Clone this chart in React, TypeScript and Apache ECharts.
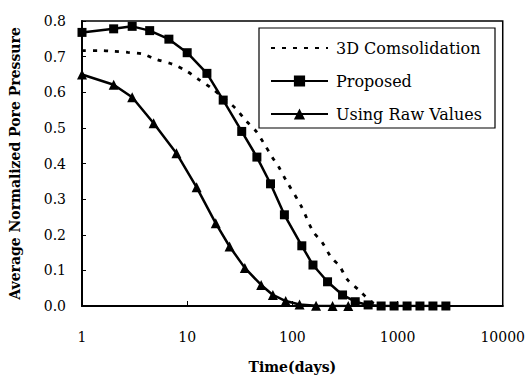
import React, { useEffect, useRef } from "react";
import * as echarts from "echarts";

const xTicks = [1, 10, 100, 1000, 10000];
const yTicks = [0, 0.1, 0.2, 0.3, 0.4, 0.5, 0.6, 0.7, 0.8];

const consolT = [1, 1.42, 2, 2.73, 3.8, 5, 7.2, 9.8, 12.7, 17.3, 22.5, 28.8, 36.3, 45.3, 53.5, 64.3, 74.3, 87, 121, 158, 190, 232, 281, 332, 436, 560, 700];
const consolV = [0.717, 0.717, 0.715, 0.712, 0.707, 0.693, 0.679, 0.66, 0.637, 0.61, 0.582, 0.555, 0.52, 0.49, 0.457, 0.418, 0.39, 0.353, 0.281, 0.208, 0.181, 0.138, 0.112, 0.075, 0.043, 0.012, 0];

const proposedT = [1, 2, 3, 4.4, 6.7, 10, 15.4, 22, 33, 46, 62, 84, 123, 157, 216, 300, 396, 525, 698, 927, 1232, 1633, 2170, 2880];
const proposedV = [0.768, 0.778, 0.785, 0.773, 0.749, 0.711, 0.653, 0.578, 0.49, 0.418, 0.343, 0.256, 0.169, 0.115, 0.068, 0.031, 0.012, 0.003, 0, 0, 0, 0, 0, 0];

const rawT = [1, 2, 3, 4.8, 7.9, 12.3, 18.7, 25.3, 35.3, 50.5, 65.3, 86.4, 117, 168, 241, 340];
const rawV = [0.65, 0.621, 0.586, 0.513, 0.429, 0.333, 0.232, 0.167, 0.107, 0.059, 0.031, 0.014, 0.004, 0.001, 0, 0];

const seriesNames = ["3D Comsolidation", "Proposed", "Using Raw Values"];

const FONT = "DejaVu Serif";

export default function App() {
  const ref = useRef<HTMLDivElement>(null);
  useEffect(() => {
    if (!ref.current) return;
    const chart = echarts.init(ref.current, null, { renderer: "svg" });
    const zip = (t: number[], v: number[]) => t.map((x, i) => [x, v[i]]);
    chart.setOption({
      animation: false,
      backgroundColor: "#ffffff",
      grid: {
        left: 82,
        right: 23,
        top: 21,
        bottom: 78,
        show: true,
        borderColor: "#000",
        borderWidth: 1.5,
      },
      xAxis: {
        type: "log",
        logBase: 10,
        min: xTicks[0],
        max: xTicks[xTicks.length - 1],
        name: "Time(days)",
        nameLocation: "middle",
        nameGap: 54,
        nameTextStyle: { fontFamily: FONT, fontSize: 14, fontWeight: "bold", color: "#000" },
        axisLine: { lineStyle: { color: "#000", width: 2 } },
        axisTick: { inside: true, length: 5, lineStyle: { color: "#000" } },
        axisLabel: {
          fontFamily: FONT,
          fontSize: 14,
          color: "#000",
          margin: 24,
          formatter: (v: number) => String(Math.round(v)),
        },
        splitLine: { show: false },
        minorTick: { show: false },
      },
      yAxis: {
        type: "value",
        min: yTicks[0],
        max: yTicks[yTicks.length - 1],
        interval: 0.1,
        name: "Average Normalized Pore Pressure",
        nameLocation: "middle",
        nameGap: 60,
        nameTextStyle: { fontFamily: FONT, fontSize: 14, fontWeight: "bold", color: "#000" },
        axisLine: { show: true, lineStyle: { color: "#000", width: 2 } },
        axisTick: { show: true, inside: true, length: 4, lineStyle: { color: "#000" } },
        axisLabel: {
          fontFamily: FONT,
          fontSize: 14,
          color: "#000",
          margin: 16,
          formatter: (v: number) => v.toFixed(1),
        },
        splitLine: { show: false },
      },
      graphic: [
        {
          type: "rect",
          shape: { x: 259, y: 28, width: 236, height: 100 },
          style: { fill: "#fff", stroke: "#000", lineWidth: 1.2 },
          z: 50,
        },
      ],
      legend: {
        orient: "vertical",
        left: 270,
        top: 40,
        padding: 0,
        itemWidth: 57,
        itemHeight: 14,
        itemGap: 17,
        z: 60,
        textStyle: { fontFamily: FONT, fontSize: 16, color: "#000", padding: [0, 0, 0, 3] },
        data: [
          { name: seriesNames[0], itemStyle: { color: "rgba(0,0,0,0)", borderWidth: 0 } },
          { name: seriesNames[1] },
          { name: seriesNames[2] },
        ],
      },
      series: [
        {
          name: seriesNames[0],
          type: "line",
          data: zip(consolT, consolV),
          symbol: "none",
          smooth: 0.3,
          lineStyle: { color: "#000", width: 2.8, type: [4, 7] },
          itemStyle: { color: "#000" },
        },
        {
          name: seriesNames[1],
          type: "line",
          data: zip(proposedT, proposedV),
          symbol: "rect",
          symbolSize: 9,
          lineStyle: { color: "#000", width: 2.5 },
          itemStyle: { color: "#000" },
        },
        {
          name: seriesNames[2],
          type: "line",
          data: zip(rawT, rawV),
          symbol: "triangle",
          symbolSize: 10,
          lineStyle: { color: "#000", width: 2.5 },
          itemStyle: { color: "#000" },
        },
      ],
    });
    return () => chart.dispose();
  }, []);
  return (
    <div
      ref={ref}
      style={{ position: "fixed", left: 0, top: 0, width: 528, height: 384, background: "#fff" }}
    />
  );
}
